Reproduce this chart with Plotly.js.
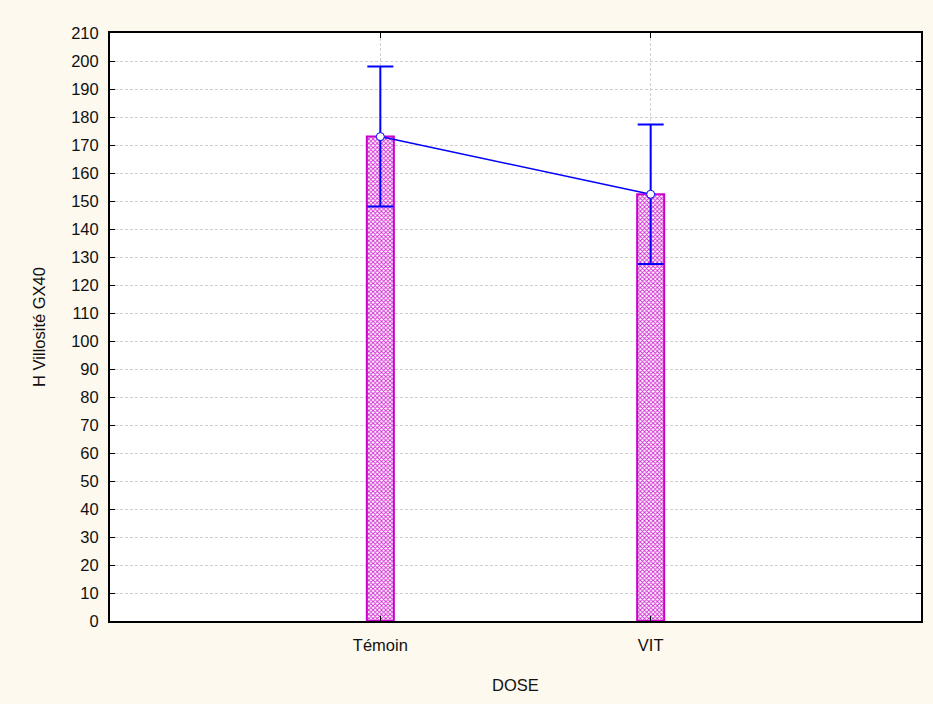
<!DOCTYPE html>
<html><head><meta charset="utf-8">
<script src="https://cdn.plot.ly/plotly-3.0.1.min.js"></script>
<style>html,body{margin:0;padding:0;background:#FEF9EF;}</style>
</head><body>
<div id="chart" style="width:933px;height:704px;"></div>
<script>
const categories = ["Témoin", "VIT"];
const means = [173.0, 152.4];
const errors = [25.0, 24.9];
const yTicks = [0,10,20,30,40,50,60,70,80,90,100,110,120,130,140,150,160,170,180,190,200,210];

const bars = {
  type: 'bar', x: categories, y: means, width: 0.1,
  marker: {
    color: '#ffffff',
    line: {color: '#CC00CC', width: 2},
    pattern: {shape: 'x', fgcolor: '#D028D0', bgcolor: '#ffffff', size: 3, solidity: 0.5}
  },
  hoverinfo: 'skip', showlegend: false
};
const line = {
  type: 'scatter', mode: 'lines+markers', x: categories, y: means,
  line: {color: '#0000FF', width: 1.5},
  marker: {color: '#ffffff', size: 8, line: {color: '#0000FF', width: 1}},
  error_y: {type: 'data', array: errors, visible: true, color: '#0000FF', thickness: 2, width: 13},
  showlegend: false
};
const layout = {
  width: 933, height: 704,
  paper_bgcolor: '#FEF9EF', plot_bgcolor: '#ffffff',
  margin: {l: 110, r: 12, t: 33, b: 83},
  font: {family: 'Liberation Sans, Arial, sans-serif', size: 16.5, color: '#111'},
  xaxis: {
    type: 'category', range: [-1, 2],
    showline: true, linecolor: '#000', linewidth: 2, mirror: 'ticks',
    ticks: 'inside', ticklen: 5, tickcolor: '#000', ticklabelstandoff: 8,
    showgrid: true, gridcolor: '#d0d0d0', griddash: '3px,2px', gridwidth: 1,
    title: {text: 'DOSE', font: {size: 16.5}, standoff: 27},
    tickfont: {size: 16.5}, zeroline: false
  },
  yaxis: {
    range: [0, 210], tickvals: yTicks, ticktext: yTicks.map(String),
    showline: true, linecolor: '#000', linewidth: 2, mirror: 'ticks',
    ticks: 'inside', ticklen: 5, tickcolor: '#000', ticklabelstandoff: 6,
    showgrid: true, gridcolor: '#d0d0d0', griddash: '3px,2px', gridwidth: 1,
    title: {text: 'H Villosité GX40', font: {size: 16.5}, standoff: 21},
    tickfont: {size: 16.5}, zeroline: false
  }
};
Plotly.newPlot('chart', [bars, line], layout, {displayModeBar: false, staticPlot: true});
</script>
</body></html>
